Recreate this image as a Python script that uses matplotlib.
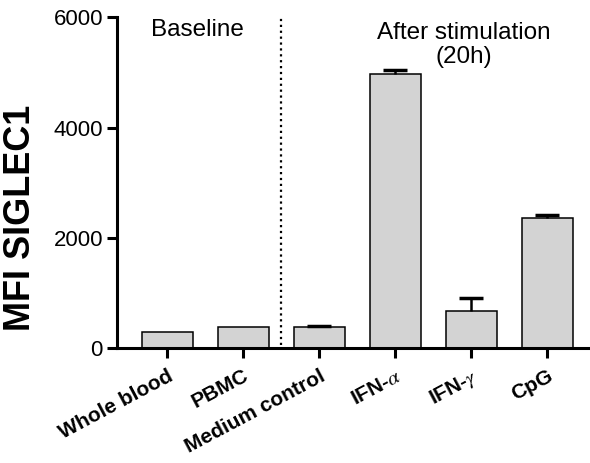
import matplotlib
matplotlib.use("Agg")
import matplotlib.pyplot as plt
import numpy as np

# values
categories = ["Whole blood", "PBMC", "Medium control", r"IFN-$\alpha$", r"IFN-$\gamma$", "CpG"]
mfi_mean = [300, 385, 390, 4975, 680, 2370]
mfi_err = [0, 0, 20, 65, 240, 45]
yticks = [0, 2000, 4000, 6000]

plt.rcParams["font.family"] = ["Liberation Sans", "DejaVu Sans"]
plt.rcParams["mathtext.fontset"] = "stix"

fig = plt.figure(figsize=(5.9, 4.63), dpi=100)
ax = fig.add_axes([0.198, 0.2477, 0.802, 0.7149])

x = np.arange(len(categories))
ax.bar(x, mfi_mean, width=0.67, color="#d3d3d3", edgecolor="black", linewidth=1.1, zorder=2)
# only the upper half of the error bar, as in GraphPad
has_err = [i for i, e in enumerate(mfi_err) if e > 0]
means_err = [mfi_mean[i] for i in has_err]
_, caps, _ = ax.errorbar(x[has_err], means_err,
                         yerr=[[0] * len(has_err), [mfi_err[i] for i in has_err]],
                         fmt="none", ecolor="black", elinewidth=1.8, capsize=8.5, capthick=2.5, zorder=3)
for cap in caps:
    if np.allclose(cap.get_ydata(), means_err):
        cap.set_visible(False)

# divider between baseline and stimulated samples
ax.plot([1.49, 1.49], [60, 6000], color="black", linestyle=":", linewidth=1.6, zorder=1)

ax.text(0.39, 5770, "Baseline", ha="center", va="center", fontsize=17.5)
ax.text(3.9, 5500, "After stimulation\n(20h)", ha="center", va="center", fontsize=17.5, linespacing=1.15)

ax.set_xlim(-0.664, 5.56)
ax.set_ylim(0, 6000)
ax.set_yticks(yticks)
ax.set_yticklabels([str(t) for t in yticks], fontsize=16)
ax.set_xticks(x)
ax.set_xticklabels(categories, rotation=28, ha="right", rotation_mode="anchor",
                   fontsize=15, fontweight="bold")
ax.tick_params(axis="both", direction="out", length=7, width=2.2, pad=3)
ax.tick_params(axis="x", pad=6)
ax.set_ylabel("MFI SIGLEC1", fontsize=26, fontweight="bold")
ax.yaxis.set_label_coords(-0.166, 0.395)

for side in ("top", "right"):
    ax.spines[side].set_visible(False)
for side in ("left", "bottom"):
    ax.spines[side].set_linewidth(2.2)

fig.savefig("out.png", dpi=100)
